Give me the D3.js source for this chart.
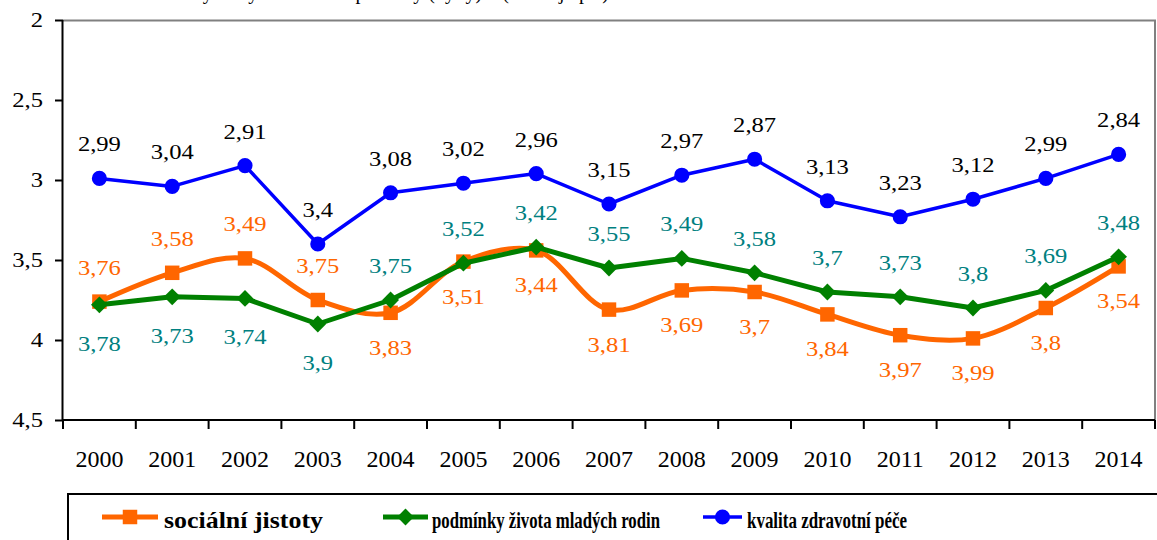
<!DOCTYPE html>
<html><head><meta charset="utf-8">
<script src="https://cdn.jsdelivr.net/npm/d3@7"></script>
<style>
body{margin:0;background:#fff;}
svg, svg text{font-family:"Liberation Serif",Tinos,"Times New Roman","DejaVu Serif",serif !important;}
</style></head><body>
<svg id="c" width="1157" height="540"></svg>
<script>
const years = ["2000","2001","2002","2003","2004","2005","2006","2007","2008","2009","2010","2011","2012","2013","2014"];
const socialni = [3.76,3.58,3.49,3.75,3.83,3.51,3.44,3.81,3.69,3.70,3.84,3.97,3.99,3.80,3.54];
const mladeRodiny = [3.78,3.73,3.74,3.90,3.75,3.52,3.42,3.55,3.49,3.58,3.70,3.73,3.80,3.69,3.48];
const zdravotni = [2.99,3.04,2.91,3.40,3.08,3.02,2.96,3.15,2.97,2.87,3.13,3.23,3.12,2.99,2.84];
const yTicks = [2,2.5,3,3.5,4,4.5];
const seriesNames = ["sociální jistoty","podmínky života mladých rodin","kvalita zdravotní péče"];
// label placement: true = below the point
const socialniBelow = [false,false,false,false,true,true,true,true,true,true,true,true,true,true,true];
const mladeBelow    = [true,true,true,true,false,false,false,false,false,false,false,false,false,false,false];
const titleText = "Hodnocení vybraných oblastí – průměry (by ly) – (1 = nejlepší)";

const svg = d3.select("#c");
const L=63,R=1155,T=20,B=420;
const SX = 1.2; // horizontal stretch of the original's text
const x = d3.scaleBand().domain(years).range([L,R]);
const y = d3.scaleLinear().domain([2,4.5]).range([T,B]);
const fmt = v => String(v).replace(".",",");

// title (cut off at top, as in the original)
svg.append("text").attr("x",100).attr("y",-1).attr("font-size",20).text(titleText);

// plot border (top/right gray)
svg.append("path").attr("d",`M${L},${T+0.5}H${R}V${B}`).attr("fill","none").attr("stroke","#808080").attr("stroke-width",2);

// axes
const yAxis = d3.axisLeft(y).tickValues(yTicks).tickSize(8).tickPadding(12).tickFormat(fmt);
const gy = svg.append("g").attr("transform",`translate(${L},0)`).call(yAxis);
const xAxis = d3.axisBottom(x).tickSize(0).tickPadding(40);
const gx = svg.append("g").attr("transform",`translate(0,${B})`).call(xAxis);
[gy,gx].forEach(g=>{
  g.attr("font-family",null);
  g.select(".domain").attr("stroke","#000").attr("stroke-width",2);
  g.selectAll("text").attr("fill","#000");
  g.selectAll(".tick line").attr("stroke","#000").attr("stroke-width",2);
});
gy.selectAll("text").attr("font-size",20.5).attr("x",-20/SX).attr("transform",`scale(${SX},1)`);
gx.selectAll("text").attr("font-size",24).attr("dy",0).attr("y",47);
gy.select(".domain").attr("d",`M-0.5,${T}V${B}`);
gx.select(".domain").attr("d",`M${L},0H${R}`);
// x ticks at band boundaries
svg.append("g").selectAll("line").data(years.concat(["end"])).join("line")
  .attr("x1",(d,i)=>L+i*x.bandwidth()).attr("x2",(d,i)=>L+i*x.bandwidth())
  .attr("y1",B).attr("y2",B+9).attr("stroke","#000").attr("stroke-width",2);

const cx = d => x(d)+x.bandwidth()/2;
const symType = m => m==="square"?d3.symbolSquare:m==="diamond"?d3.symbolDiamond2:d3.symbolCircle;
const symSize = m => m==="square"?210:m==="diamond"?180:180;

function drawSeries(vals, color, width, curve, marker){
  const g = svg.append("g");
  const line = d3.line().x((d,i)=>cx(years[i])).y(d=>y(d)).curve(curve);
  g.append("path").datum(vals).attr("d",line).attr("fill","none").attr("stroke",color).attr("stroke-width",width).attr("stroke-linejoin","round");
  const sym = d3.symbol().type(symType(marker)).size(symSize(marker));
  g.selectAll("path.m").data(vals).join("path").attr("class","m")
    .attr("transform",(d,i)=>`translate(${cx(years[i])},${y(d)})`)
    .attr("d",sym()).attr("fill",color);
}
function drawLabels(vals, color, below, belowOff){
  svg.append("g").selectAll("text").data(vals).join("text")
    .attr("transform",(d,i)=>`translate(${cx(years[i])},${y(d)+(below[i]?belowOff:-27)}) scale(${SX},1)`)
    .attr("text-anchor","middle").attr("font-size",20.5).attr("fill",color).text(fmt);
}
drawSeries(socialni,"#FF6600",5,d3.curveCatmullRom.alpha(0.5),"square");
drawSeries(mladeRodiny,"#008000",5,d3.curveLinear,"diamond");
drawSeries(zdravotni,"#0000FF",3.5,d3.curveLinear,"circle");
drawLabels(socialni,"#FF6600",socialniBelow,42);
drawLabels(mladeRodiny,"#008080",mladeBelow,46);
drawLabels(zdravotni,"#000",zdravotni.map(()=>false),0);

// legend
const lg = svg.append("g");
lg.append("rect").attr("x",68).attr("y",494).attr("width",1200).attr("height",100).attr("fill","none").attr("stroke","#000").attr("stroke-width",2);
const legItems = [
  {name:seriesNames[0],color:"#FF6600",marker:"square",x1:102,x2:158,tx:164,w:159,sw:5},
  {name:seriesNames[1],color:"#008000",marker:"diamond",x1:383,x2:428,tx:432,w:228,sw:5},
  {name:seriesNames[2],color:"#0000FF",marker:"circle",x1:703,x2:742,tx:747,w:160,sw:3.5}
];
const ly = 517;
legItems.forEach(it=>{
  lg.append("line").attr("x1",it.x1).attr("x2",it.x2).attr("y1",ly).attr("y2",ly).attr("stroke",it.color).attr("stroke-width",it.sw);
  const sym = d3.symbol().type(symType(it.marker)).size(symSize(it.marker));
  lg.append("path").attr("transform",`translate(${(it.x1+it.x2)/2},${ly})`).attr("d",sym()).attr("fill",it.color);
  lg.append("text").attr("x",it.tx).attr("y",528).attr("font-size",24).attr("font-weight","bold")
    .attr("textLength",it.w).attr("lengthAdjust","spacingAndGlyphs").text(it.name);
});
</script>
</body></html>
